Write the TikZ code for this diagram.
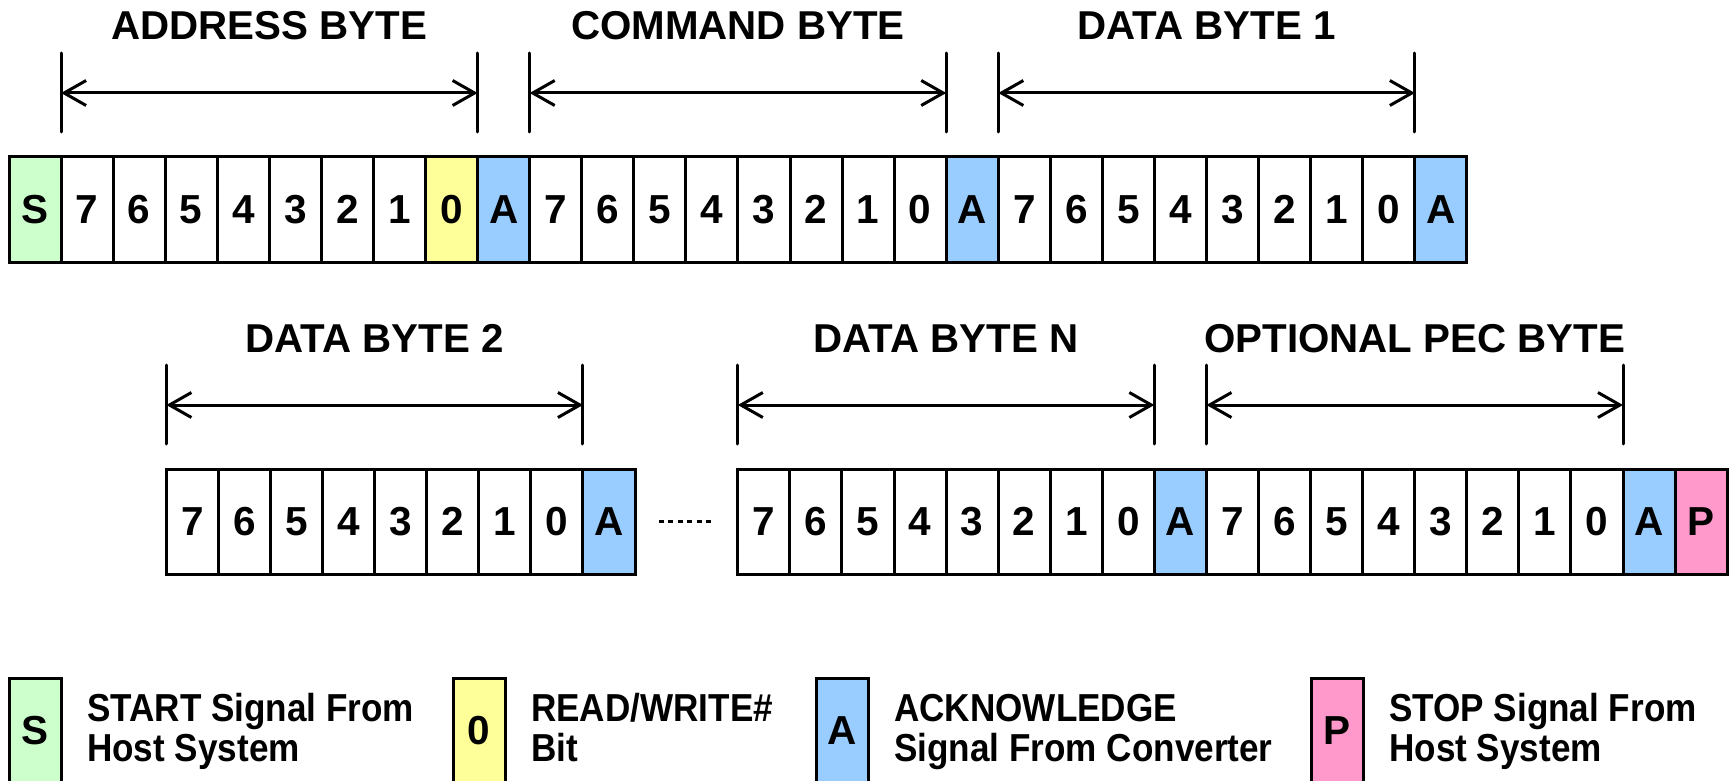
\documentclass[tikz,border=0pt]{standalone}
\usepackage{fontspec}
\setmainfont{Liberation Sans}
\newfontfamily\legfont{Liberation Sans Bold}[FakeStretch=0.9]
\usetikzlibrary{arrows.meta,calc}
\definecolor{cS}{HTML}{CCFFCC}
\definecolor{cY}{HTML}{FFFF99}
\definecolor{cA}{HTML}{99CCFF}
\definecolor{cP}{HTML}{FF99CC}
\begin{document}
\begin{tikzpicture}[x=1pt,y=-1pt,
  cell/.style={draw=black, line width=3pt, minimum width=52.07pt, minimum height=105pt,
    inner sep=0pt, outer sep=0pt, anchor=north west, font=\fontsize{40.5}{40}\selectfont\bfseries},
  legbox/.style={draw=black, line width=3pt, minimum width=52pt, minimum height=106pt,
    inner sep=0pt, outer sep=0pt, anchor=north west, font=\fontsize{40.5}{40}\selectfont\bfseries},
  legtext/.style={anchor=base west, inner sep=0pt, font=\fontsize{39}{40}\selectfont\legfont},
  title/.style={anchor=base, inner sep=0pt, font=\fontsize{40.3}{40}\selectfont\bfseries},
  tick/.style={line width=3pt, line cap=round},
  dim/.style={line width=3pt, {Straight Barb[length=22pt,width=25pt]}-{Straight Barb[length=22pt,width=25pt]}},
  dotline/.style={line width=3pt, dash pattern=on 5pt off 4.4pt}]
\useasboundingbox (0,0) rectangle (1733,781);
\clip (0,0) rectangle (1733,781);
\fill[white] (0,0) rectangle (1733,781);

% row 1
\foreach \t/\c [count=\i from 0] in {S/cS,7/white,6/white,5/white,4/white,3/white,2/white,1/white,0/cY,A/cA,
  7/white,6/white,5/white,4/white,3/white,2/white,1/white,0/white,A/cA,
  7/white,6/white,5/white,4/white,3/white,2/white,1/white,0/white,A/cA}
  \node[cell, fill=\c] (r1c\i) at ({9+\i*52.07},157) {\t};

% row 2, first group
\foreach \t/\c [count=\i from 0] in {7/white,6/white,5/white,4/white,3/white,2/white,1/white,0/white,A/cA}
  \node[cell, fill=\c] (r2a\i) at ({166.4+\i*52.07},469) {\t};

% row 2, second group
\foreach \t/\c [count=\i from 0] in {7/white,6/white,5/white,4/white,3/white,2/white,1/white,0/white,A/cA,
  7/white,6/white,5/white,4/white,3/white,2/white,1/white,0/white,A/cA,P/cP}
  \node[cell, fill=\c] (r2b\i) at ({737.8+\i*52.07},469) {\t};

% dotted gap
\draw[dotline] ([xshift=24pt]r2a8.east) -- ([xshift=-24pt]r2b0.west);

% dimension arrows and titles
\foreach \l/\r/\txt/\nm in {r1c1/r1c9/ADDRESS BYTE/addr, r1c10/r1c18/COMMAND BYTE/cmd,
  r1c19/r1c27/DATA BYTE 1/db1, r2a0/r2a8/DATA BYTE 2/db2, r2b0/r2b8/DATA BYTE N/dbn,
  r2b9/r2b17/OPTIONAL PEC BYTE/pec}
{
  \coordinate (\nm-lt) at ([yshift=104pt]\l.north west);
  \coordinate (\nm-lb) at ([yshift=25pt]\l.north west);
  \coordinate (\nm-lm) at ([yshift=64pt]\l.north west);
  \coordinate (\nm-rt) at ([yshift=104pt]\r.north west);
  \coordinate (\nm-rb) at ([yshift=25pt]\r.north west);
  \coordinate (\nm-rm) at ([yshift=64pt]\r.north west);
  \draw[tick] (\nm-lt) -- (\nm-lb);
  \draw[tick] (\nm-rt) -- (\nm-rb);
  \draw[dim] (\nm-lm) -- (\nm-rm);
  \node[title, yshift=53pt] (\nm) at ($(\nm-lm)!0.5!(\nm-rm)$) {\txt};
}

% legend
\node[legbox, fill=cS] (lS) at (9,678) {S};
\node[legtext] (lS1) at ([xshift=26pt,yshift=-43pt]lS.north east) {START Signal From};
\node[legtext] (lS2) at ([xshift=26pt,yshift=-83pt]lS.north east) {Host System};

\node[legbox, fill=cY] (lY) at (453,678) {0};
\node[legtext] (lY1) at ([xshift=26pt,yshift=-43pt]lY.north east) {READ/WRITE\#};
\node[legtext] (lY2) at ([xshift=26pt,yshift=-83pt]lY.north east) {Bit};

\node[legbox, fill=cA] (lA) at (816,678) {A};
\node[legtext] (lA1) at ([xshift=26pt,yshift=-43pt]lA.north east) {ACKNOWLEDGE};
\node[legtext] (lA2) at ([xshift=26pt,yshift=-83pt]lA.north east) {Signal From Converter};

\node[legbox, fill=cP] (lP) at (1311,678) {P};
\node[legtext] (lP1) at ([xshift=26pt,yshift=-43pt]lP.north east) {STOP Signal From};
\node[legtext] (lP2) at ([xshift=26pt,yshift=-83pt]lP.north east) {Host System};
\end{tikzpicture}
\end{document}
